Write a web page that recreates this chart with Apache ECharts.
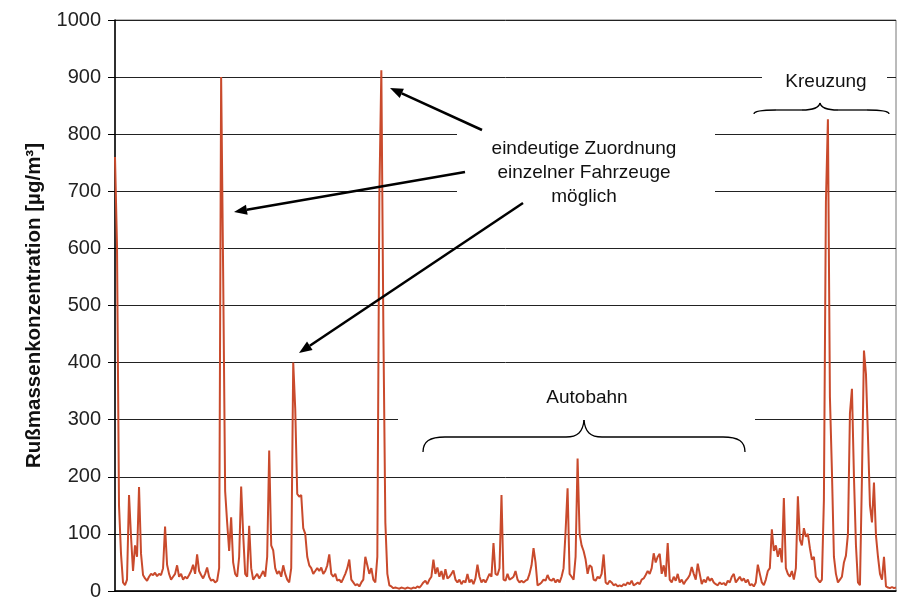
<!DOCTYPE html>
<html><head><meta charset="utf-8">
<script src="https://cdn.jsdelivr.net/npm/echarts@6/dist/echarts.min.js"></script>
<style>html,body{margin:0;padding:0;background:#fff}#c{width:906px;height:601px}</style>
</head><body><div id="c"></div>
<script>
// Rußmassenkonzentration [µg/m³], one reading per sample
const conc = [
  760, 605, 150, 65, 15, 10, 20, 168, 95, 35,
  80, 60, 182, 65, 28, 22, 18, 25, 30, 28,
  32, 26, 30, 28, 40, 113, 46, 30, 20, 25,
  30, 45, 25, 30, 20, 25, 22, 28, 35, 46,
  30, 64, 35, 28, 22, 30, 41, 25, 18, 20,
  15, 18, 40, 900, 560, 175, 120, 70, 129, 50,
  30, 25, 60, 183, 100, 30, 25, 114, 40, 20,
  25, 30, 22, 28, 35, 25, 60, 246, 80, 71,
  40, 30, 35, 25, 45, 30, 20, 15, 40, 400,
  319, 170, 165, 168, 110, 100, 60, 45, 40, 30,
  35, 40, 35, 41, 30, 35, 45, 64, 30, 25,
  30, 18, 20, 15, 22, 30, 40, 55, 20, 15,
  10, 12, 8, 15, 20, 60, 45, 30, 40, 20,
  15, 60, 690, 912, 464, 120, 30, 10, 8, 5,
  6, 5, 4, 6, 5, 4, 6, 5, 4, 6,
  5, 8, 6, 10, 15, 18, 12, 20, 25, 55,
  30, 41, 25, 35, 20, 38, 22, 25, 30, 36,
  20, 15, 20, 12, 18, 15, 30, 15, 20, 12,
  22, 46, 25, 15, 20, 15, 22, 30, 25, 84,
  30, 28, 40, 168, 20, 18, 30, 20, 22, 25,
  35, 20, 15, 18, 15, 18, 20, 30, 45, 75,
  50, 10, 12, 15, 20, 18, 28, 20, 18, 22,
  15, 20, 15, 25, 40, 104, 180, 30, 25, 20,
  60, 232, 100, 80, 70, 55, 30, 45, 42, 20,
  18, 25, 22, 30, 64, 15, 12, 18, 15, 10,
  12, 8, 10, 8, 12, 10, 15, 12, 18, 10,
  12, 15, 12, 20, 22, 28, 35, 30, 40, 66,
  50, 60, 65, 30, 45, 25, 84, 20, 15, 25,
  18, 30, 15, 20, 12, 18, 22, 28, 42, 30,
  20, 48, 30, 12, 20, 15, 25, 18, 22, 15,
  12, 10, 15, 12, 14, 10, 18, 15, 25, 30,
  15, 20, 25, 18, 22, 15, 20, 10, 12, 8,
  15, 46, 30, 15, 10, 20, 35, 40, 108, 70,
  80, 60, 75, 50, 163, 40, 30, 25, 35, 20,
  40, 166, 90, 80, 110, 95, 100, 75, 55, 60,
  25, 20, 15, 20, 160, 681, 826, 340, 210, 60,
  30, 15, 20, 25, 50, 62, 100, 311, 354, 200,
  80, 15, 10, 200, 421, 380, 270, 150, 120, 190,
  97, 60, 30, 20, 60, 8, 6, 5, 7, 5,
  6
];
const sampleIdx = conc.map((_, i) => i);
const yName = 'Rußmassenkonzentration [µg/m³]';
const notes = {
  vehicles: 'eindeutige Zuordnung\neinzelner Fahrzeuge\nmöglich',
  crossing: 'Kreuzung',
  motorway: 'Autobahn'
};

const FONT = '"Liberation Sans", Arial, sans-serif';

function arrow(x1, y1, x2, y2) {
  const ang = Math.atan2(y2 - y1, x2 - x1);
  const L = 13, W = 5;
  const bx = x2 - L * Math.cos(ang), by = y2 - L * Math.sin(ang);
  const px = -Math.sin(ang) * W, py = Math.cos(ang) * W;
  return [
    { type: 'line', z: 20, shape: { x1: x1, y1: y1, x2: bx, y2: by },
      style: { stroke: '#000', lineWidth: 2.5 } },
    { type: 'polygon', z: 20, shape: { points: [[x2, y2], [bx + px, by + py], [bx - px, by - py]] },
      style: { fill: '#000' } }
  ];
}

// curly brace: ends at (xl, yEnd) and (xr, yEnd), bar at yBar, tip at (xt, yTip)
function brace(xl, xr, yEnd, yBar, xt, yTip) {
  const st = { stroke: '#000', lineWidth: 1.3, fill: null };
  const r = 22, rt = 18;
  const dEnd = yEnd - yBar, dTip = yBar - yTip;
  return [
    { type: 'bezierCurve', z: 20, style: st, shape: { x1: xl, y1: yEnd, cpx1: xl, cpy1: yBar + dEnd * 0.3, cpx2: xl + r * 0.3, cpy2: yBar, x2: xl + r, y2: yBar } },
    { type: 'line', z: 20, style: st, shape: { x1: xl + r, y1: yBar, x2: xt - rt, y2: yBar } },
    { type: 'bezierCurve', z: 20, style: st, shape: { x1: xt - rt, y1: yBar, cpx1: xt - rt * 0.35, cpy1: yBar, cpx2: xt - 1, cpy2: yBar - dTip * 0.3, x2: xt, y2: yTip } },
    { type: 'bezierCurve', z: 20, style: st, shape: { x1: xt, y1: yTip, cpx1: xt + 1, cpy1: yBar - dTip * 0.3, cpx2: xt + rt * 0.35, cpy2: yBar, x2: xt + rt, y2: yBar } },
    { type: 'line', z: 20, style: st, shape: { x1: xt + rt, y1: yBar, x2: xr - r, y2: yBar } },
    { type: 'bezierCurve', z: 20, style: st, shape: { x1: xr - r, y1: yBar, cpx1: xr - r * 0.3, cpy1: yBar, cpx2: xr, cpy2: yBar + dEnd * 0.3, x2: xr, y2: yEnd } }
  ];
}

const chart = echarts.init(document.getElementById('c'), null, { renderer: 'canvas' });
chart.setOption({
  animation: false,
  backgroundColor: '#fff',
  grid: { left: 115, right: 10, top: 20, bottom: 4, show: true, borderColor: '#777', borderWidth: 1, backgroundColor: 'transparent' },
  xAxis: {
    type: 'category', data: sampleIdx, boundaryGap: false,
    axisLine: { show: true, lineStyle: { color: '#000', width: 1.5 } },
    axisTick: { show: false }, axisLabel: { show: false }, splitLine: { show: false }
  },
  yAxis: {
    type: 'value', min: 0, max: 1000, interval: 100,
    name: yName, nameLocation: 'middle', nameGap: 70,
    nameTextStyle: { fontFamily: FONT, fontWeight: 'bold', fontSize: 20.5, color: '#111' },
    axisLine: { show: true, lineStyle: { color: '#000', width: 1.5 } },
    axisTick: { show: true, length: 7, lineStyle: { color: '#000' } },
    axisLabel: { fontFamily: FONT, fontSize: 20, color: '#222', margin: 14, formatter: v => String(v) },
    splitLine: { show: true, lineStyle: { color: '#222', width: 1 } }
  },
  series: [{
    type: 'line', data: conc, showSymbol: false, sampling: false, z: 5,
    lineStyle: { color: '#c94a2c', width: 2 }
  }],
  graphic: [
    { type: 'rect', z: 1, shape: { x: 457, y: 124, width: 258, height: 86 }, style: { fill: '#fff' } },
    { type: 'rect', z: 1, shape: { x: 762, y: 62, width: 125, height: 38 }, style: { fill: '#fff' } },
    { type: 'rect', z: 1, shape: { x: 398, y: 372, width: 357, height: 86 }, style: { fill: '#fff' } },
    { type: 'text', z: 20, x: 584, y: 173,
      style: { text: notes.vehicles, font: '19px ' + FONT, fill: '#111', align: 'center', verticalAlign: 'middle', lineHeight: 24 } },
    { type: 'text', z: 20, x: 826, y: 82,
      style: { text: notes.crossing, font: '19px ' + FONT, fill: '#111', align: 'center', verticalAlign: 'middle' } },
    { type: 'text', z: 20, x: 587, y: 398,
      style: { text: notes.motorway, font: '19px ' + FONT, fill: '#111', align: 'center', verticalAlign: 'middle' } }
  ]
    .concat(brace(423, 745, 452, 437, 584, 420))
    .concat(brace(754, 889, 114, 110, 820, 103))
    .concat(arrow(482, 130, 390, 88))
    .concat(arrow(465, 172, 234, 212))
    .concat(arrow(523, 203, 299, 353))
});
</script></body></html>
